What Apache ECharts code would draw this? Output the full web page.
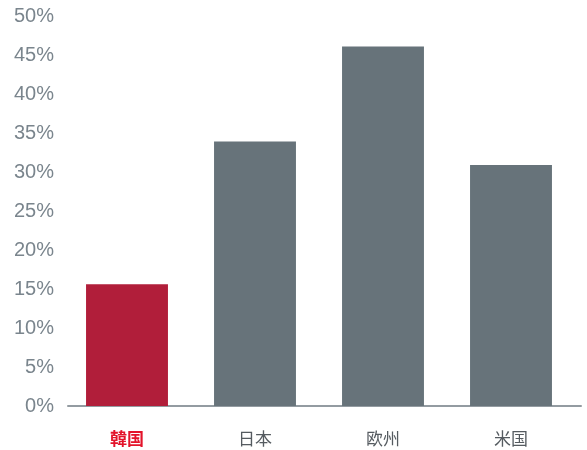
<!DOCTYPE html>
<html><head><meta charset="utf-8">
<script src="https://cdn.jsdelivr.net/npm/echarts@6/dist/echarts.min.js"></script>
<style>html,body{margin:0;padding:0;background:#fff}#c{width:587px;height:450px}</style>
</head><body><div id="c"></div>
<script>
const categories = ['韓国', '日本', '欧州', '米国'];
const values = [15.6, 33.9, 46.1, 30.9];
const barColors = ['#B11E3A', '#67737A', '#67737A', '#67737A'];
const yTicks = [0, 5, 10, 15, 20, 25, 30, 35, 40, 45, 50];

const chart = echarts.init(document.getElementById('c'));
chart.setOption({
  animation: false,
  grid: [
    { left: 63, right: 12, top: 16, bottom: 44 },
    { left: 68, right: 6, top: 16, bottom: 44 }
  ],
  xAxis: [{
    type: 'category',
    gridIndex: 0,
    data: categories,
    axisLine: { show: false },
    axisTick: { show: false },
    axisLabel: {
      margin: 24,
      fontSize: 17,
      fontFamily: 'Noto Sans CJK JP',
      formatter: function (v, i) { return i === 0 ? '{hl|' + v + '}' : '{n|' + v + '}'; },
      rich: {
        hl: { color: '#E3142B', fontWeight: 'bold', fontSize: 17, fontFamily: 'Noto Sans CJK JP' },
        n: { color: '#555b60', fontSize: 17, fontFamily: 'Noto Sans CJK JP' }
      }
    }
  }, {
    type: 'category',
    gridIndex: 1,
    data: categories,
    axisLine: { show: true, lineStyle: { color: '#939ba1', width: 2 } },
    axisTick: { show: false },
    axisLabel: { show: false }
  }],
  yAxis: [{
    type: 'value',
    gridIndex: 0,
    min: yTicks[0],
    max: yTicks[yTicks.length - 1],
    interval: 5,
    splitLine: { show: false },
    axisLine: { show: false },
    axisTick: { show: false },
    axisLabel: {
      margin: 9,
      fontSize: 20,
      color: '#7a858d',
      fontFamily: 'Liberation Sans',
      formatter: '{value}%'
    }
  }, {
    type: 'value',
    gridIndex: 1,
    min: 0, max: 50,
    show: false
  }],
  series: [{
    type: 'bar',
    xAxisIndex: 0,
    yAxisIndex: 0,
    data: values.map((v, i) => ({ value: v, itemStyle: { color: barColors[i] } })),
    barCategoryGap: '36%'
  }]
});
</script></body></html>
